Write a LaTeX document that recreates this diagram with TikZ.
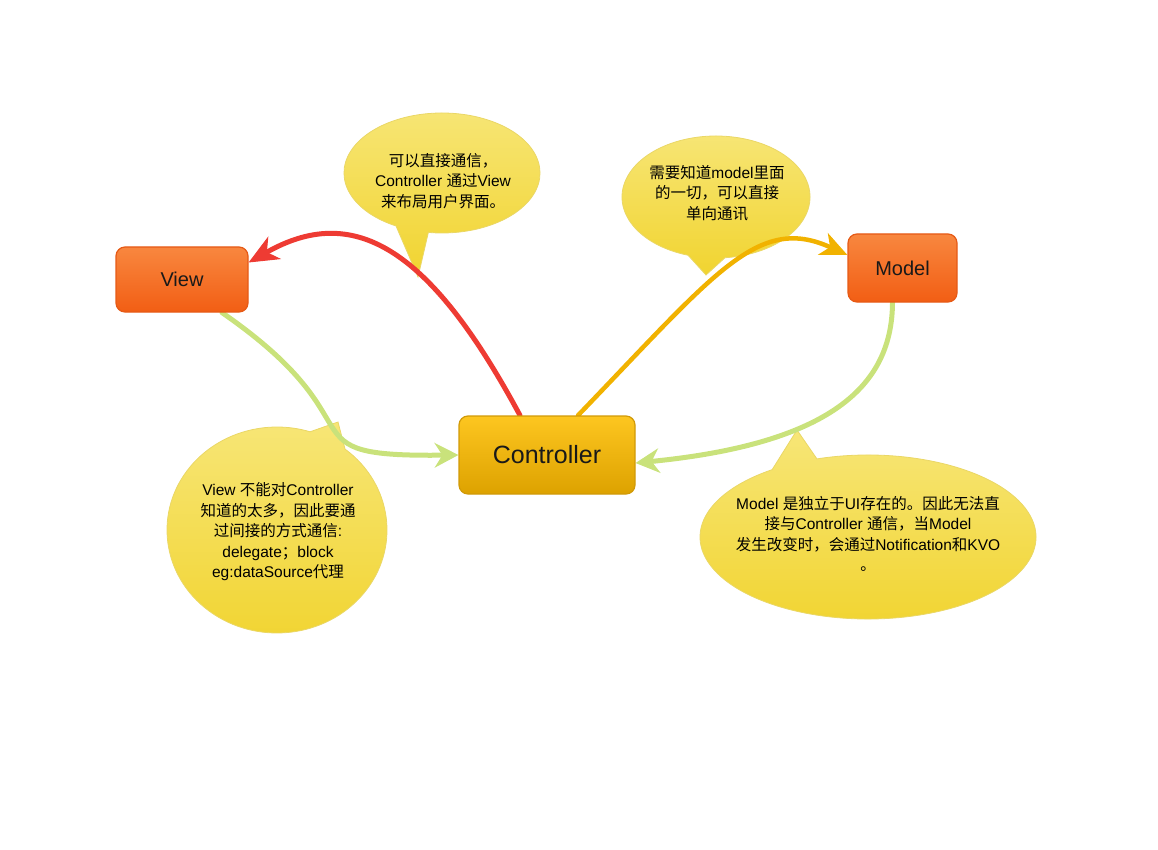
\documentclass[tikz,border=0pt]{standalone}
\usepackage{fontspec}
\setmainfont{Liberation Sans}
\newfontfamily\cjkf{Noto Sans CJK SC}
\newcommand{\zh}[1]{{\cjkf #1}}
\usetikzlibrary{arrows.meta,calc}
\pgfdeclarelayer{bubbles}
\pgfdeclarelayer{links}
\pgfsetlayers{bubbles,links,main}
\definecolor{boxorA}{HTML}{F8873F}
\definecolor{boxorB}{HTML}{F25E14}
\definecolor{boxorL}{HTML}{E65A16}
\definecolor{ctrlA}{HTML}{FDC620}
\definecolor{ctrlB}{HTML}{DDA200}
\definecolor{ctrlL}{HTML}{D19A08}
\definecolor{bubA}{HTML}{F7E677}
\definecolor{bubB}{HTML}{F1D430}
\definecolor{bubL}{HTML}{EAD766}
\definecolor{redl}{HTML}{EE3B33}
\definecolor{orl}{HTML}{F1B200}
\definecolor{grl}{HTML}{C9E27B}
\tikzset{
  box/.style={rounded corners=9pt, draw=boxorL, line width=1.2pt, top color=boxorA, bottom color=boxorB,
    font=\fontsize{20}{24}\selectfont, text=black!90, inner sep=0pt},
  ctrlbox/.style={rounded corners=9pt, draw=ctrlL, line width=1.2pt, top color=ctrlA, bottom color=ctrlB,
    font=\fontsize{25}{30}\selectfont, text=black!90, inner sep=0pt},
  bubble/.style={draw=bubL, line width=0.8pt, top color=bubA, bottom color=bubB},
  bubtext/.style={align=center, font=\fontsize{15.5}{20.5}\selectfont, text=black, inner sep=0pt},
  link/.style={line width=5pt, line cap=round},
  bigtip/.style={-{Stealth[length=30pt,width=26pt,inset=9pt,line width=1pt]}},
  midtip/.style={-{Stealth[length=27pt,width=24pt,inset=8pt,line width=1pt]}},
  grtip/.style={-{Stealth[length=24pt,width=25pt,inset=8pt,line width=1pt]}}
}
\begin{document}
\begin{tikzpicture}[x=1pt,y=-1pt]
\useasboundingbox (0,0) rectangle (1158,850);

% main boxes
\node[box, minimum width=132pt, minimum height=65pt] (view) at (182,279.5) {View};
\node[box, minimum width=109pt, minimum height=68pt] (model) at (902.5,268) {Model};
\node[ctrlbox, minimum width=176pt, minimum height=78pt] (ctrl) at (547,455) {Controller};

% callouts
\begin{pgfonlayer}{bubbles}
\path[bubble] (442,173) ++(118:98 and 60) arc[start angle=118, end angle=458, x radius=98, y radius=60] -- (418,277) -- cycle;
\node[bubtext] (t1) at (443,181) {\zh{可以直接通信，}\\Controller \zh{通过}View\\\zh{来布局用户界面。}};

\path[bubble] (716,197) ++(107.3:94 and 61) arc[start angle=107.3, end angle=444.5, x radius=94, y radius=61] -- (706,275) -- cycle;
\node[bubtext] (t2) at (717,193) {\zh{需要知道}model\zh{里面}\\\zh{的一切，可以直接}\\\zh{单向通讯}};

\path[bubble] (277,530) ++(-51.8:110 and 103) arc[start angle=-51.8, end angle=287.5, x radius=110, y radius=103] -- (338,422) -- cycle;
\node[bubtext] (t3) at (278,532) {View \zh{不能对}Controller\\\zh{知道的太多，因此要通}\\\zh{过间接的方式通信}:\\delegate\zh{；}block\\eg:dataSource\zh{代理}};

\path[bubble] (868,537) ++(-107.7:168 and 82) arc[start angle=-107.7, end angle=235.2, x radius=168, y radius=82] -- (797,430) -- cycle;
\node[bubtext] (t4) at (868,534) {Model \zh{是独立于}UI\zh{存在的。因此无法直}\\\zh{接与}Controller \zh{通信，当}Model\\\zh{发生改变时，会通过}Notification\zh{和}KVO\\\zh{。}};
\end{pgfonlayer}

% connectors
\begin{pgfonlayer}{links}
\draw[link, redl, bigtip] ($(ctrl.north)+(-27,0)$) .. controls (428,244) and (352,204) .. ($(view.east)+(0,-17)$);
\draw[link, orl, line width=4.5pt, midtip] ($(ctrl.north)+(31,0)$) .. controls (716,272) and (758,214.5) .. ($(model.west)+(0,-13)$);
\draw[link, grl, grtip] ($(view.south)+(40,0)$) .. controls (386,426) and (278,457) .. (ctrl.west);
\draw[link, grl, grtip] ($(model.south)+(-10,0)$) .. controls (892,382) and (837,443) .. ($(ctrl.east)+(0,8)$);
\end{pgfonlayer}
\end{tikzpicture}
\end{document}
